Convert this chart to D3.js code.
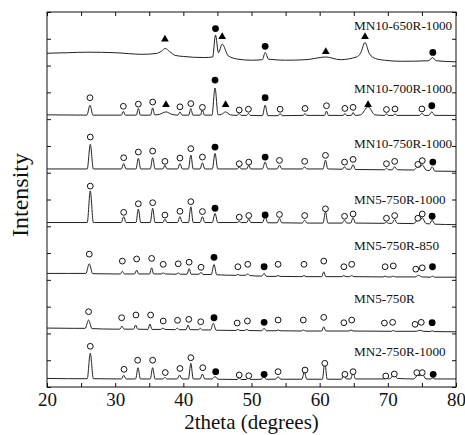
<!DOCTYPE html>
<html><head><meta charset="utf-8">
<script src="https://cdn.jsdelivr.net/npm/d3@7/dist/d3.min.js"></script>
<style>
html,body{margin:0;padding:0;background:#fff;}
svg{display:block;}
text{font-family:"Liberation Serif","Times New Roman",serif;fill:#111;}
</style></head>
<body>
<script>
// ---- data (2theta in degrees, intensity in arbitrary units above each trace's own zero) ----
const seriesNames = ["MN2-750R-1000","MN5-750R","MN5-750R-850","MN5-750R-1000","MN10-750R-1000","MN10-700R-1000","MN10-650R-1000"];
const stackStep = 100;
const xTicks = [20,25,30,35,40,45,50,55,60,65,70,75,80];
const xTickLabels = [20,30,40,50,60,70,80];

const traceMN2_750R_1000 = [[20,16],[23,15.5],[25.9,15.5],[26.35,63],[26.8,15.5],[30.9,15],[31.25,22],[31.6,15],[33.0,15],[33.35,36],[33.7,15],[35.15,15],[35.5,36],[35.85,15],[37.0,15],[37.3,18],[37.6,15],[39.1,15],[39.45,22.5],[39.8,15],[40.75,15],[41.1,44],[41.45,15],[42.45,15],[42.8,24],[43.15,15],[44.2,15],[44.65,19.5],[45.1,14.5],[47.9,14],[48.2,17],[48.5,14],[49.25,14],[49.55,18],[49.85,14],[51.45,14.5],[51.8,19.5],[52.15,14.5],[53.5,14.5],[53.9,19],[54.3,14.5],[57.4,14.5],[57.75,28.5],[58.1,14.5],[60.4,14.5],[60.75,47],[61.1,14.5],[63.2,14.5],[63.55,24],[63.9,15],[64.55,15],[64.9,28.5],[65.25,15],[69.5,15],[69.8,17],[70.1,15],[70.4,16],[70.9,24],[71.4,16],[73.8,15],[74.4,22],[74.75,21],[75.0,25.5],[75.6,15],[76.3,15],[76.6,17],[76.9,15],[80,15]];
const traceMN5_750R = [[20,10],[24,9.5],[25.6,9.5],[26.1,25],[26.6,9],[30,8],[30.7,8],[31.0,13.8],[31.3,8],[32.7,8],[33.0,15.7],[33.3,8],[34.8,7.5],[35.1,17.5],[35.4,7.5],[36.7,7.5],[37.0,10],[37.3,7.5],[38.8,7],[39.1,10],[39.4,7],[40.4,7],[40.7,15.7],[41.0,7],[42.2,7],[42.5,9.5],[42.8,6.5],[44.0,6.5],[44.4,19],[44.8,6],[47.7,5.5],[48.0,7.5],[48.3,5.5],[49.0,5.5],[49.3,7.5],[49.6,5.5],[51.5,5],[51.85,9.5],[52.2,5],[53.6,5],[53.9,6.5],[54.2,5],[57.3,4.5],[57.6,6.5],[57.9,4.5],[60.3,4.5],[60.6,12.5],[60.9,4.5],[64.3,4.5],[64.6,6.5],[64.9,4.5],[70.5,4],[70.8,5.5],[71.1,4],[74.2,4],[74.7,6],[75.2,4],[76.2,3.5],[76.5,5],[76.8,3.5],[80,3]];
const traceMN5_750R_850 = [[20,12],[23,12],[25.7,12],[26.2,30],[26.7,11.5],[30,11],[30.75,11],[31.05,16],[31.35,11],[32.85,11],[33.15,18],[33.45,11],[35.05,11],[35.35,22.5],[35.65,11],[36.75,11],[37.05,13],[37.35,11],[38.95,10.5],[39.25,13],[39.55,10.5],[40.55,10.5],[40.85,21],[41.15,10.5],[42.3,10.5],[42.6,14],[42.9,10],[44.1,10],[44.5,28.5],[44.9,9.5],[47.7,8.5],[48.0,10],[48.3,8.5],[49.1,8.5],[49.45,11],[49.8,8],[51.5,7],[51.85,12],[52.2,6.5],[53.6,6.5],[53.9,8],[54.2,6.5],[57.4,6],[57.7,8],[58.0,6],[60.3,6],[60.6,15],[60.9,6],[63.25,6],[63.55,8],[63.85,6],[64.4,6],[64.7,8],[65.0,6],[69.3,5.5],[69.6,7],[69.9,5.5],[70.5,5.5],[70.8,7],[71.1,5.5],[74.0,5.5],[74.5,8.5],[75.0,5.5],[76.25,5],[76.55,7],[76.85,5],[80,5]];
const traceMN5_750R_1000 = [[20,7],[25.9,7],[26.35,66],[26.8,7],[30.9,7],[31.25,18],[31.6,7],[33.05,7],[33.4,32],[33.75,7],[35.15,7],[35.5,33.5],[35.85,7],[37.0,7],[37.3,13.5],[37.6,7],[39.15,7],[39.5,18],[39.85,7],[40.75,7],[41.1,36.5],[41.45,7],[42.45,7],[42.8,18],[43.15,7],[44.25,7],[44.65,24],[45.05,7],[47.9,7],[48.2,9],[48.5,7],[49.3,7],[49.6,13.5],[49.9,7],[51.6,7],[52.0,17.5],[52.4,6.5],[53.75,6.5],[54.1,14.5],[54.45,6.5],[57.45,6],[57.8,11.5],[58.15,6],[60.5,6],[60.85,27],[61.2,6],[63.3,6],[63.65,11.5],[64.0,6],[64.55,6],[64.9,16],[65.25,6],[69.5,5.5],[69.8,8],[70.1,5.5],[70.6,5.5],[71.0,13],[71.4,5.5],[73.8,5],[74.4,11.5],[74.7,11],[75.05,16],[75.6,5],[76.1,4.5],[76.5,11.5],[76.9,4],[80,3]];
const traceMN10_750R_1000 = [[20,7],[25.9,7],[26.35,53],[26.8,7],[30.9,7],[31.25,17],[31.6,7],[33.05,7],[33.4,27],[33.75,7],[35.15,7],[35.5,28],[35.85,7],[37.0,7],[37.3,14],[37.6,7],[39.15,7],[39.5,17],[39.85,7],[40.75,7],[41.1,33],[41.45,7],[42.45,7],[42.8,18.5],[43.15,7],[44.25,7],[44.65,36],[45.05,7],[47.9,7],[48.2,11],[48.5,7],[49.3,7],[49.6,14],[49.9,7],[51.6,7],[52.0,20],[52.4,7],[53.75,7],[54.1,14],[54.45,7],[57.45,7],[57.8,11],[58.15,7],[60.5,7],[60.85,23.5],[61.2,7],[63.3,6.5],[63.65,11],[64.0,6.5],[64.55,6.5],[64.9,15],[65.25,6],[69.5,5.5],[69.8,8.5],[70.1,5.5],[70.6,5.5],[71.0,11],[71.4,5.5],[73.8,5],[74.4,11],[74.7,10.5],[75.05,15],[75.6,5],[76.1,4],[76.5,11],[76.9,3],[80,2.5]];
const traceMN10_700R_1000 = [[20,8],[25.85,7.5],[26.3,26],[26.75,7.5],[30.9,7.5],[31.2,14.5],[31.5,7.5],[33.1,7.5],[33.4,20],[33.7,7.5],[35.2,7.5],[35.5,21],[35.8,8],[36.5,9],[37.45,13.5],[38.3,9],[39.2,7.5],[39.5,13.5],[39.8,7.5],[40.8,7.5],[41.1,20],[41.4,7.5],[42.5,7.5],[42.8,17],[43.1,7.5],[44.2,7.5],[44.65,58],[45.1,8],[45.6,9],[46.2,13.5],[46.9,8],[47.9,7],[48.2,10.5],[48.5,7],[49.3,7],[49.55,10.5],[49.85,7],[51.6,6.5],[52.0,26],[52.4,6.5],[53.9,6.5],[54.2,10.5],[54.5,6.5],[57.6,7],[57.85,10.5],[58.1,7],[60.7,7],[61.0,15],[61.3,7],[63.45,7],[63.7,10.5],[63.95,7],[64.65,7],[64.9,12.5],[65.2,7],[66.0,8],[67.1,23],[68.1,8],[69.55,7],[69.8,10],[70.05,7],[70.8,7],[71.05,10],[71.3,7],[74.6,7],[75.0,10.5],[75.4,7],[76.0,7],[76.45,13.5],[76.9,7],[80,7]];
const traceMN10_650R_1000 = [[20,23],[23,24],[26,25],[30,24],[34,21],[36,22.5],[36.8,27],[37.35,32],[38,26],[38.8,19],[40,17],[43,15],[44.3,16],[44.72,57],[45.15,24],[45.7,40],[46.6,18],[48,12],[50,10],[51.6,11],[52.0,24.5],[52.5,12],[55,10],[58,11],[60.9,16],[63,11],[65.4,16],[66.0,23],[66.65,43],[67.3,22],[68.2,13],[69.5,10],[72,8],[76,9],[76.55,15],[77.1,9],[80,7]];

// phase markers: [2theta, height above trace zero]
const openMN2_750R_1000 = [[26.35,76],[31.3,33],[33.3,50],[35.5,50],[37.35,27],[39.5,34.6],[41.1,54.7],[42.85,36],[48.2,22.4],[49.6,21],[53.9,28.6],[57.85,31.7],[60.75,44.2],[63.7,23.7],[64.9,28.6],[69.7,20.5],[70.95,24.3],[74.25,26.8],[75.05,26.8]];
const filledMN2_750R_1000 = [[44.75,28.6],[51.85,23.7],[76.65,23.7]];
const openMN5_750R = [[26.1,40.5],[30.95,29.3],[33.05,34.4],[35.2,34.4],[37.05,23.2],[39.15,24.5],[40.8,26.3],[42.55,21.8],[47.9,19.4],[49.4,23.2],[53.9,25],[57.6,25],[60.6,30],[63.55,20],[64.7,25],[69.5,19.4],[70.7,20.7],[74.0,17],[74.9,20.7]];
const filledMN5_750R = [[44.5,29.3],[51.85,20.7],[76.5,20]];
const openMN5_750R_850 = [[26.2,48],[31.05,35],[33.15,39],[35.35,40],[37.05,29],[39.25,30],[40.85,33],[42.6,23.5],[48.0,24.5],[49.45,29],[53.9,29],[57.7,29],[60.6,35],[63.55,24.5],[64.7,29],[69.6,24.5],[70.8,26],[74.1,20],[75.05,22.5]];
const filledMN5_750R_850 = [[44.5,42],[51.85,24.5],[76.55,24.5]];
const openMN5_750R_1000 = [[26.35,75],[31.25,26],[33.4,42],[35.5,44],[37.3,21],[39.5,28],[41.1,46],[42.8,27.5],[48.2,17],[49.6,20],[54.1,22],[57.8,20],[60.85,32.6],[63.65,18.7],[64.9,23],[69.8,15],[71.0,20],[74.4,15],[75.05,23]];
const filledMN5_750R_1000 = [[44.65,33.7],[52.0,21.3],[76.5,18.7]];
const openMN10_750R_1000 = [[26.35,66.6],[31.25,28],[33.4,38.6],[35.5,40.4],[37.3,21.2],[39.5,27.4],[41.1,44.9],[42.8,29.2],[48.2,16.8],[49.6,19.8],[54.1,23],[57.8,21.2],[60.85,32.4],[63.65,19.8],[64.9,24.9],[69.8,16.8],[71.0,21.2],[74.4,15.5],[75.05,22.5]];
const filledMN10_750R_1000 = [[44.65,47.9],[52.0,29.2],[76.6,19.8]];
const openMN10_700R_1000 = [[26.3,40],[31.2,24],[33.4,28],[35.5,32],[39.5,23],[41.1,29],[42.8,22],[48.2,17],[49.55,18.5],[54.2,18.5],[57.85,20],[61.0,25],[63.7,20],[64.9,22],[69.8,18],[71.05,19],[75.0,19]];
const filledMN10_700R_1000 = [[44.65,73],[52.0,40],[76.45,25]];
const triMN10_700R_1000 = [[37.45,27],[46.2,27],[67.1,27]];
const filledMN10_650R_1000 = [[44.72,69],[52.0,36],[76.6,24.5]];
const triMN10_650R_1000 = [[37.3,49],[45.7,54],[60.9,26],[66.65,54]];

const traces = [traceMN2_750R_1000,traceMN5_750R,traceMN5_750R_850,traceMN5_750R_1000,traceMN10_750R_1000,traceMN10_700R_1000,traceMN10_650R_1000];
const openMarks = [openMN2_750R_1000,openMN5_750R,openMN5_750R_850,openMN5_750R_1000,openMN10_750R_1000,openMN10_700R_1000,[]];
const filledMarks = [filledMN2_750R_1000,filledMN5_750R,filledMN5_750R_850,filledMN5_750R_1000,filledMN10_750R_1000,filledMN10_700R_1000,filledMN10_650R_1000];
const triMarks = [[],[],[],[],[],triMN10_700R_1000,triMN10_650R_1000];
const labelHeights = [66,66,64,50,55,58,75];

// ---- drawing ----
const W = 465, H = 435;
const m = {left:47, right:9, top:12, bottom:48};
const svg = d3.select("body").append("svg").attr("width",W).attr("height",H);
const x = d3.scaleLinear().domain([20,80]).range([m.left, W-m.right]);
const y = d3.scaleLinear().domain([0, stackStep*seriesNames.length]).range([H-m.bottom, m.top]);

const line = d3.line().x(d=>x(d[0])).y(d=>y(d[1])).curve(d3.curveMonotoneX);

const g = svg.append("g");
traces.forEach((t,i)=>{
  const off = i*stackStep;
  g.append("path").datum(t.map(p=>[p[0],p[1]+off]))
    .attr("d",line).attr("fill","none").attr("stroke","#222").attr("stroke-width",1);
  g.selectAll(null).data(openMarks[i]).enter().append("circle")
    .attr("cx",d=>x(d[0])).attr("cy",d=>y(d[1]+off)).attr("r",2.9)
    .attr("fill","#fff").attr("stroke","#111").attr("stroke-width",1);
  g.selectAll(null).data(filledMarks[i]).enter().append("circle")
    .attr("cx",d=>x(d[0])).attr("cy",d=>y(d[1]+off)).attr("r",3.4)
    .attr("fill","#000");
  g.selectAll(null).data(triMarks[i]).enter().append("path")
    .attr("d",d3.symbol(d3.symbolTriangle,26)())
    .attr("transform",d=>`translate(${x(d[0])},${y(d[1]+off)})`)
    .attr("fill","#000");
  svg.append("text").attr("x",354).attr("y",y(off+labelHeights[i])+4.5)
    .attr("font-size",13.2).text(seriesNames[i]);
});

// axes
const yTicks = d3.range(0, stackStep*seriesNames.length+1, stackStep/2);
const bottomAxis = d3.axisBottom(x).tickValues(xTicks).tickSizeInner(-4).tickSizeOuter(0).tickPadding(6)
  .tickFormat(d=>xTickLabels.includes(d)?d:"");
const topAxis = d3.axisTop(x).tickValues(xTicks).tickSizeInner(-4).tickSizeOuter(0).tickFormat("");
const leftAxis = d3.axisLeft(y).tickValues(yTicks).tickSizeInner(-4).tickSizeOuter(0).tickFormat("");
const rightAxis = d3.axisRight(y).tickValues(yTicks).tickSizeInner(-4).tickSizeOuter(0).tickFormat("");

const ax = [
  svg.append("g").attr("transform",`translate(0,${H-m.bottom})`).call(bottomAxis),
  svg.append("g").attr("transform",`translate(0,${m.top})`).call(topAxis),
  svg.append("g").attr("transform",`translate(${m.left},0)`).call(leftAxis),
  svg.append("g").attr("transform",`translate(${W-m.right},0)`).call(rightAxis)
];
ax.forEach(a=>{
  a.select(".domain").remove();
  a.selectAll(".tick line").attr("stroke","#111");
});
ax[0].selectAll(".tick text").attr("font-size",19).attr("fill","#111");

svg.append("rect").attr("x",m.left).attr("y",m.top).attr("width",W-m.left-m.right).attr("height",H-m.top-m.bottom)
  .attr("fill","none").attr("stroke","#111").attr("stroke-width",1);

svg.append("text").attr("x",(m.left+W-m.right)/2).attr("y",429).attr("text-anchor","middle")
  .attr("font-size",21).text("2theta (degrees)");
svg.append("text").attr("transform","translate(28,195) rotate(-90)").attr("text-anchor","middle")
  .attr("font-size",24).text("Intensity");
</script>
</body></html>
